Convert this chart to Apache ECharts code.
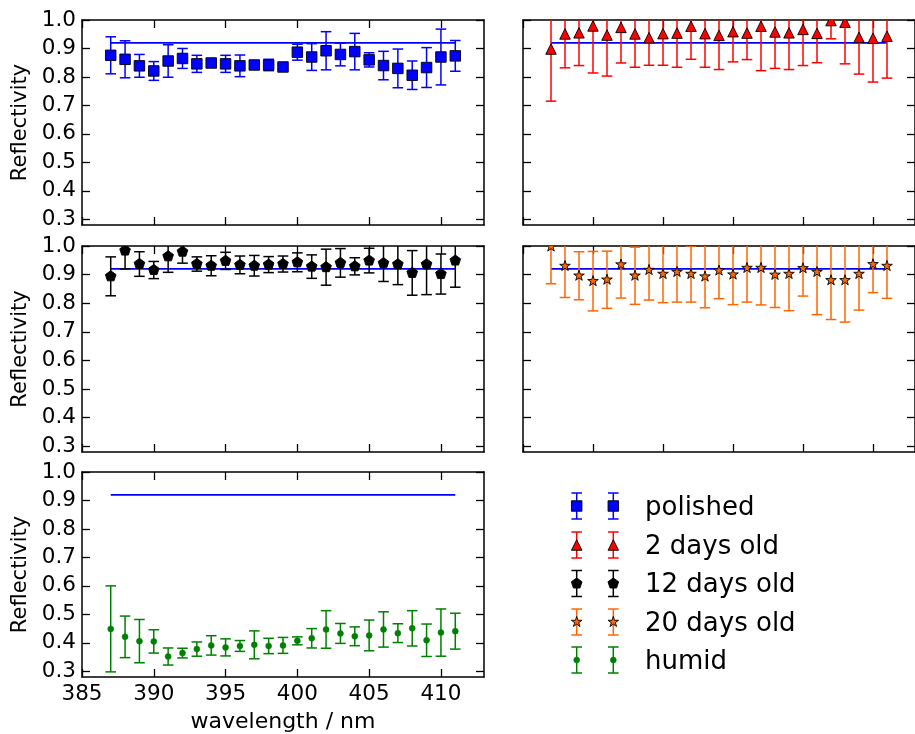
<!DOCTYPE html>
<html><head><meta charset="utf-8">
<script src="https://cdn.jsdelivr.net/npm/echarts@6/dist/echarts.min.js"></script>
<style>html,body{margin:0;padding:0;background:#fff}#c{width:915px;height:734px}</style>
</head><body><div id="c"></div>
<script>
// ---------------- data ----------------
const wavelengths = [387,388,389,390,391,392,393,394,395,396,397,398,399,400,401,402,403,404,405,406,407,408,409,410,411];

const polishedR   = [0.876,0.862,0.839,0.821,0.856,0.865,0.846,0.849,0.846,0.839,0.842,0.842,0.835,0.887,0.870,0.892,0.879,0.889,0.860,0.840,0.830,0.806,0.833,0.870,0.874];
const polishedErr = [0.065,0.065,0.040,0.033,0.057,0.035,0.030,0.010,0.030,0.038,0.010,0.020,0.006,0.028,0.047,0.067,0.040,0.064,0.025,0.050,0.068,0.050,0.070,0.098,0.054];

const twoDaysR    = [0.898,0.951,0.955,0.979,0.947,0.974,0.951,0.938,0.952,0.954,0.978,0.952,0.946,0.959,0.954,0.978,0.958,0.955,0.967,0.953,0.998,0.992,0.939,0.936,0.943];
const twoDaysErr  = [0.183,0.119,0.115,0.165,0.144,0.125,0.117,0.097,0.111,0.120,0.116,0.118,0.120,0.106,0.093,0.156,0.128,0.129,0.127,0.103,0.064,0.146,0.129,0.154,0.147];

const twelveDaysR   = [0.894,0.984,0.937,0.916,0.964,0.980,0.937,0.931,0.948,0.934,0.931,0.935,0.937,0.943,0.928,0.926,0.941,0.929,0.949,0.940,0.936,0.906,0.936,0.902,0.949];
const twelveDaysErr = [0.068,0.064,0.043,0.030,0.056,0.040,0.025,0.035,0.030,0.031,0.036,0.028,0.028,0.033,0.041,0.063,0.050,0.030,0.043,0.064,0.071,0.078,0.106,0.070,0.093];

const twentyDaysR   = [0.998,0.930,0.896,0.877,0.882,0.935,0.896,0.916,0.902,0.909,0.902,0.893,0.914,0.900,0.923,0.923,0.899,0.902,0.922,0.909,0.880,0.880,0.902,0.936,0.930];
const twentyDaysErr = [0.130,0.110,0.084,0.104,0.100,0.117,0.100,0.105,0.100,0.105,0.098,0.109,0.098,0.105,0.119,0.129,0.114,0.128,0.097,0.149,0.137,0.146,0.126,0.099,0.113];

const humidR   = [0.449,0.421,0.406,0.405,0.352,0.364,0.378,0.391,0.384,0.389,0.393,0.389,0.391,0.407,0.416,0.447,0.433,0.423,0.426,0.447,0.434,0.451,0.409,0.436,0.441];
const humidErr = [0.151,0.073,0.076,0.041,0.030,0.017,0.025,0.034,0.030,0.019,0.049,0.027,0.028,0.014,0.034,0.066,0.035,0.033,0.054,0.062,0.033,0.062,0.057,0.083,0.063];

const referenceLevel = 0.92;
const referenceRange = [387, 411];

const xTicks = [385,390,395,400,405,410];
const yTicks = [0.3,0.4,0.5,0.6,0.7,0.8,0.9,1.0];
const xRange = [385, 413];
const yRange = [0.28, 1.0];

const legendNames = ['polished','2 days old','12 days old','20 days old','humid'];
const xLabel = 'wavelength / nm';
const yLabel = 'Reflectivity';

// ---------------- layout / style ----------------
const FONT = 'DejaVu Sans';
const grids = [
  {left:82,  top:20,  width:402, height:205},
  {left:523, top:20,  width:401, height:205},
  {left:82,  top:246, width:402, height:206},
  {left:523, top:246, width:401, height:206},
  {left:82,  top:472, width:402, height:205}
];
const panels = [
  {R: polishedR,   E: polishedErr,   color:'#0000ff', kind:'square'},
  {R: twoDaysR,    E: twoDaysErr,    color:'#ff0000', kind:'triangle'},
  {R: twelveDaysR, E: twelveDaysErr, color:'#000000', kind:'pentagon'},
  {R: twentyDaysR, E: twentyDaysErr, color:'#ff6600', kind:'star'},
  {R: humidR,      E: humidErr,      color:'#008000', kind:'dot'}
];

function markerEl(kind, cx, cy, color) {
  const h = 5.25;
  const style = {fill: color, stroke: '#000', lineWidth: 0.9};
  if (kind === 'square') return {type:'rect', shape:{x:cx-h, y:cy-h, width:2*h, height:2*h}, style};
  if (kind === 'triangle') return {type:'polygon', shape:{points:[[cx,cy-h],[cx-h,cy+h],[cx+h,cy+h]]}, style};
  if (kind === 'pentagon') {
    const pts = [];
    for (let k = 0; k < 5; k++) { const a = (-90 + 72*k) * Math.PI/180; pts.push([cx + 5.6*Math.cos(a), cy + 5.6*Math.sin(a)]); }
    return {type:'polygon', shape:{points:pts}, style};
  }
  if (kind === 'star') {
    const pts = [];
    for (let k = 0; k < 10; k++) { const a = (-90 + 36*k) * Math.PI/180; const r = k % 2 ? 5.6*0.381966 : 5.6; pts.push([cx + r*Math.cos(a), cy + r*Math.sin(a)]); }
    return {type:'polygon', shape:{points:pts}, style};
  }
  return {type:'circle', shape:{cx, cy, r:3}, style:{fill:color, stroke:color, lineWidth:0.5}};
}
function errorbarEls(cx, yTop, yBot, cy, color, kind) {
  const cap = 5.3, lw = 1.5;
  return [
    {type:'line', shape:{x1:cx, y1:yTop, x2:cx, y2:yBot}, style:{stroke:color, lineWidth:lw}},
    {type:'line', shape:{x1:cx-cap, y1:yTop, x2:cx+cap, y2:yTop}, style:{stroke:color, lineWidth:lw}},
    {type:'line', shape:{x1:cx-cap, y1:yBot, x2:cx+cap, y2:yBot}, style:{stroke:color, lineWidth:lw}},
    markerEl(kind, cx, cy, color)
  ];
}

const axisLineStyle = {show:true, onZero:false, lineStyle:{color:'#000', width:1.5}};
const tickStyle = (vals) => ({show:true, inside:true, length:8, lineStyle:{color:'#000', width:1.3}, customValues: vals});

const xAxes = [], yAxes = [], series = [];
grids.forEach((g, i) => {
  const showX = (i === 4), showY = (i % 2 === 0);
  xAxes.push({type:'value', gridIndex:i, position:'bottom', min:xRange[0], max:xRange[1],
    axisLine:axisLineStyle, axisTick:tickStyle(xTicks), splitLine:{show:false},
    axisLabel:{show:showX, customValues:xTicks, margin:6, color:'#000', fontFamily:FONT, fontSize:21.5, formatter:v=>String(v)},
    name: showX ? xLabel : '', nameLocation:'middle', nameGap:34,
    nameTextStyle:{color:'#000', fontFamily:FONT, fontSize:22}});
  xAxes.push({type:'value', gridIndex:i, position:'top', min:xRange[0], max:xRange[1],
    axisLine:axisLineStyle, axisTick:tickStyle(xTicks), splitLine:{show:false}, axisLabel:{show:false}});
  yAxes.push({type:'value', gridIndex:i, position:'left', min:yRange[0], max:yRange[1],
    axisLine:axisLineStyle, axisTick:tickStyle(yTicks), splitLine:{show:false},
    axisLabel:{show:showY, customValues:yTicks, margin:6, color:'#000', fontFamily:FONT, fontSize:21.5, formatter:v=>v.toFixed(1)},
    name: showY ? yLabel : '', nameLocation:'middle', nameGap:51, nameRotate:90,
    nameTextStyle:{color:'#000', fontFamily:FONT, fontSize:21}});
  yAxes.push({type:'value', gridIndex:i, position:'right', min:yRange[0], max:yRange[1],
    axisLine:axisLineStyle, axisTick:tickStyle(yTicks), splitLine:{show:false}, axisLabel:{show:false}});

  series.push({type:'line', xAxisIndex:2*i, yAxisIndex:2*i, silent:true, symbol:'none', z:1,
    data:[[referenceRange[0], referenceLevel],[referenceRange[1], referenceLevel]],
    lineStyle:{color:'#0000ff', width:1.8}});

  const p = panels[i];
  series.push({type:'custom', xAxisIndex:2*i, yAxisIndex:2*i, clip:true, z:2, silent:true,
    encode:{x:0, y:1},
    data: wavelengths.map((w, k) => [w, p.R[k], p.E[k]]),
    renderItem: (params, api) => {
      const x = api.value(0), y = api.value(1), e = api.value(2);
      const c = api.coord([x, y]), t = api.coord([x, y + e]), b = api.coord([x, y - e]);
      return {type:'group', children: errorbarEls(c[0], t[1], b[1], c[1], p.color, p.kind)};
    }});
});

// legend (drawn as graphic)
const legendEls = [];
const legendRows = [506, 545, 583.5, 622, 660];
legendNames.forEach((name, i) => {
  const y = legendRows[i], p = panels[i];
  [576.7, 613.3].forEach(x => {
    errorbarEls(x, y - 13, y + 13, y, p.color, p.kind).forEach(el => legendEls.push(el));
  });
  legendEls.push({type:'text', x:645, y:y + 2, style:{text:name, fill:'#000', font:'26px "DejaVu Sans"', align:'left', verticalAlign:'middle'}});
});

const chart = echarts.init(document.getElementById('c'), null, {renderer:'canvas'});
chart.setOption({
  animation:false,
  backgroundColor:'#fff',
  grid: grids.map(g => Object.assign({containLabel:false}, g)),
  xAxis: xAxes, yAxis: yAxes, series,
  graphic: {elements: legendEls}
});
</script></body></html>
